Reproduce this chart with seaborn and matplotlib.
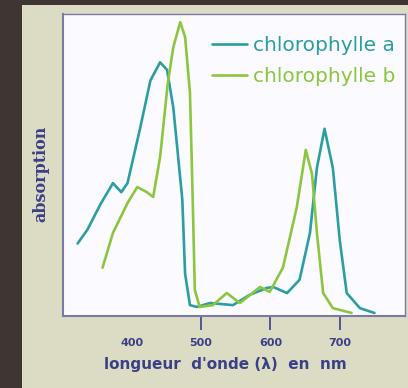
import matplotlib
matplotlib.use('Agg')
import matplotlib.pyplot as plt
import seaborn as sns
import pandas as pd
from matplotlib.patches import Rectangle

sns.set_theme(style='white')

# spectra (wavelength in nm, relative absorption)
wl_a = [322, 336, 355, 373, 385, 394, 412, 427, 441, 451, 460, 473, 477, 484,
        494, 513, 546, 570, 595, 604, 624, 642, 657, 667, 678, 690, 700, 710,
        729, 750]
abs_a = [0.24, 0.285, 0.37, 0.44, 0.41, 0.44, 0.62, 0.78, 0.84, 0.815, 0.69,
         0.385, 0.14, 0.036, 0.03, 0.043, 0.036, 0.07, 0.093, 0.096, 0.076,
         0.12, 0.275, 0.49, 0.62, 0.49, 0.25, 0.076, 0.026, 0.01]

wl_b = [358, 373, 394, 408, 422, 431, 441, 452, 460, 470, 477, 484, 488, 491,
        498, 517, 537, 556, 585, 599, 618, 638, 651, 660, 667, 676, 690, 717]
abs_b = [0.16, 0.275, 0.374, 0.427, 0.41, 0.394, 0.527, 0.77, 0.89, 0.973,
         0.924, 0.74, 0.385, 0.086, 0.03, 0.036, 0.076, 0.043, 0.096, 0.08,
         0.16, 0.36, 0.55, 0.47, 0.275, 0.076, 0.026, 0.01]

labels = ['chlorophylle a', 'chlorophylle b']
colors = ['#2a9ea3', '#8cc63f']
xticks = [400, 500, 600, 700]

df = pd.concat([
    pd.DataFrame({'wl': wl_a, 'abs': abs_a, 'pigment': labels[0]}),
    pd.DataFrame({'wl': wl_b, 'abs': abs_b, 'pigment': labels[1]}),
])

navy = '#3b3f86'
fig = plt.figure(figsize=(4.08, 3.88), dpi=100, facecolor='#3d3633')
# beige panel behind the chart
fig.patches.append(Rectangle((22 / 408, 0), 1, 383 / 388, transform=fig.transFigure,
                             facecolor='#dcdcc4', edgecolor='none', zorder=-1))
ax = fig.add_axes([63 / 408, 72 / 388, 342 / 408, 302 / 388])
ax.set_facecolor('#fbfbff')

sns.lineplot(data=df, x='wl', y='abs', hue='pigment', palette=colors,
             linewidth=1.9, ax=ax, sort=False)

ax.set_xlim(301, 794)
ax.set_ylim(0, 1)
ax.set_yticks([])
ax.set_xticks(xticks)
ax.set_xticklabels([str(t) for t in xticks], color=navy, fontsize=8, fontweight='bold')
ax.tick_params(axis='x', direction='out', length=10, width=1.2, color=navy, pad=6,
               bottom=True)
ax.xaxis.get_major_ticks()[0].tick1line.set_visible(False)
for s in ax.spines.values():
    s.set_color('#7a7aa8')
    s.set_linewidth(1)
ax.spines['left'].set_linewidth(1.5)
ax.spines['bottom'].set_linewidth(1.5)

ax.set_xlabel("longueur  d'onde (λ)  en  nm", color=navy, fontsize=11,
              fontweight='bold')
ax.xaxis.set_label_coords(0.476, -0.135)
ax.set_ylabel('absorption', color=navy, fontsize=11.5, fontweight='bold',
              family='DejaVu Serif')
ax.yaxis.set_label_coords(-0.04, 0.47)

leg = ax.legend(loc='upper right', bbox_to_anchor=(1.0, 0.96), frameon=False,
                fontsize=14.5, handlelength=1.7, handletextpad=0.3,
                borderaxespad=0.1, labelspacing=0.6, labelcolor='linecolor',
                title=None)

fig.savefig('out.png', dpi=100, facecolor=fig.get_facecolor())
